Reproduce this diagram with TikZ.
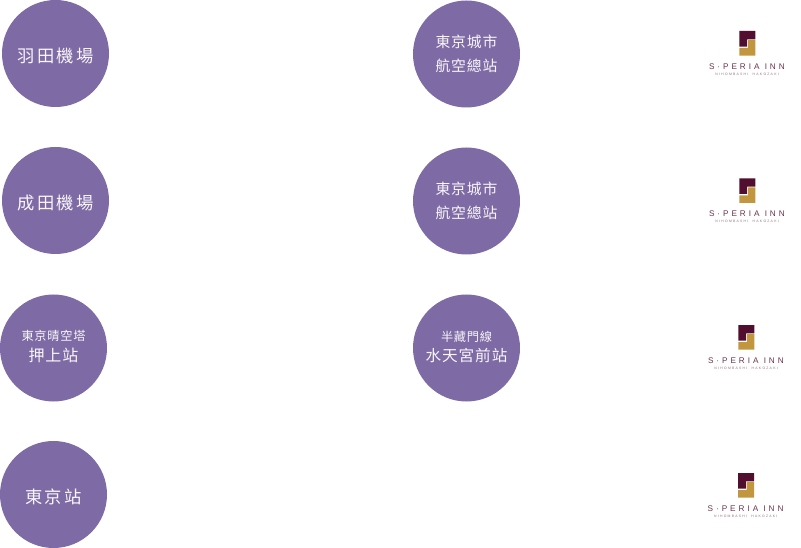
\documentclass[tikz,border=0pt]{standalone}
\usepackage{fontspec}
\newfontfamily\cjkfont[LetterSpace=6]{Noto Sans CJK TC}
\newfontfamily\cjkwide[LetterSpace=13]{Noto Sans CJK TC}
\newfontfamily\logofont[LetterSpace=36]{Liberation Sans}
\newfontfamily\logosubfont[LetterSpace=37]{Liberation Sans}
\definecolor{circlepurple}{HTML}{7E6AA4}
\definecolor{logodark}{HTML}{520E2E}
\definecolor{logogold}{HTML}{C1963E}
\definecolor{labelwhite}{HTML}{F8F6FA}
\tikzset{
  hub/.style={circle,fill=circlepurple,draw=none,minimum size=107pt,inner sep=0pt,text=labelwhite,align=center},
  big/.style={font=\cjkwide\fontsize{17.3}{24}\selectfont},
  mid/.style={font=\cjkfont\fontsize{14.8}{24}\selectfont},
  logotitle/.style={inner sep=0pt,text=logodark!85,font=\logofont\fontsize{8.2}{8}\selectfont},
  logosub/.style={inner sep=0pt,text=logodark!60,font=\logosubfont\fontsize{3.4}{4}\selectfont},
}
\newcommand{\innlogo}[3]{%
  \begin{scope}[shift={(#1,#2)}]
    \fill[logodark] (0,0) -- (16,0) -- (16,8.3) -- (7.8,8.3) -- (7.8,15.6) -- (0,15.6) -- cycle;
    \fill[logogold] (8.7,9.2) -- (16,9.2) -- (16,24.6) -- (0,24.6) -- (0,17) -- (8.7,17) -- cycle;
    \node[logotitle] (#3t) at (7.6,35.5) {S·PERIA INN};
    \node[logosub] (#3s) at (7.8,43.3) {NIHOMBASHI\ \ HAKOZAKI};
  \end{scope}}
\begin{document}
\begin{tikzpicture}[x=1pt,y=-1pt]
\useasboundingbox (0,0) rectangle (801,548);
\node[hub] (a1) at (55.5,53.5) {};
\node[hub] (a2) at (55.5,200.5) {};
\node[big,text=labelwhite,inner sep=0pt] (a1t) at (55.5,55.5) {羽田機場};
\node[big,text=labelwhite,inner sep=0pt] (a2t) at (55.5,202.5) {成田機場};
\node[hub] (a3) at (53.5,348) {};
\node[text=labelwhite,align=center,inner sep=0pt] (a3t) at (53.5,346.5) {{\cjkfont\fontsize{12.2}{18}\selectfont 東京晴空塔}\\[6pt]{\cjkfont\fontsize{16}{18}\selectfont 押上站}};
\node[hub] (a4) at (53.5,494.5) {};
\node[big,text=labelwhite,inner sep=0pt] (a4t) at (53.5,496.5) {東京站};
\node[hub,mid] (b1) at (466.5,54) {東京城市\\航空總站};
\node[hub,mid] (b2) at (466.5,201) {東京城市\\航空總站};
\node[hub] (b3) at (466.5,348) {};
\node[text=labelwhite,align=center,inner sep=0pt] (b3t) at (466.5,347) {{\cjkfont\fontsize{12.2}{18}\selectfont 半藏門線}\\[5pt]{\cjkfont\fontsize{15.6}{18}\selectfont 水天宮前站}};
\innlogo{739.3}{31}{c1}
\innlogo{739.3}{178.3}{c2}
\innlogo{738.3}{325}{c3}
\innlogo{738}{473}{c4}
\end{tikzpicture}
\end{document}
